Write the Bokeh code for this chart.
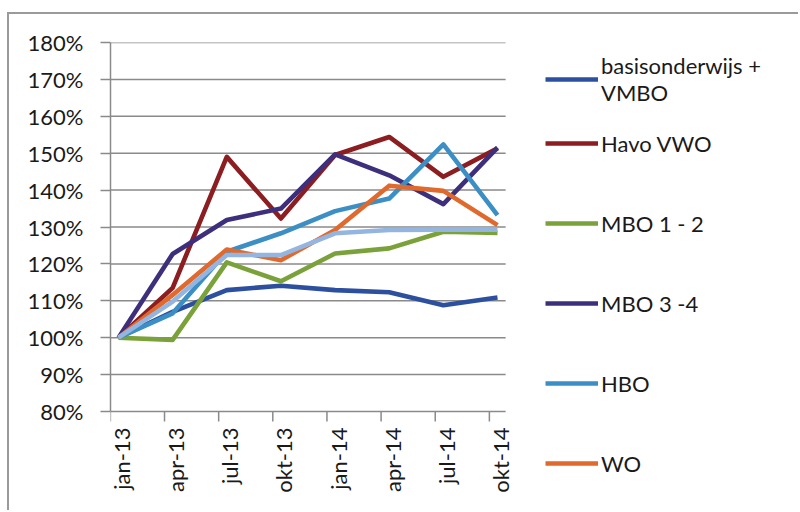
from math import pi
from bokeh.plotting import figure
from bokeh.models import FixedTicker, Legend, LegendItem, PrintfTickFormatter
from bokeh.core.properties import value
from bokeh.embed import file_html
from bokeh.resources import INLINE

months = ["jan-13", "apr-13", "jul-13", "okt-13", "jan-14", "apr-14", "jul-14", "okt-14"]
basis_vmbo = [100, 107.0, 112.9, 114.1, 112.9, 112.3, 108.8, 110.9]
havo_vwo = [100, 113.5, 149.0, 132.3, 149.5, 154.4, 143.6, 151.3]
mbo_12 = [100, 99.4, 120.4, 115.3, 122.8, 124.2, 128.7, 128.4]
mbo_34 = [100, 122.7, 131.9, 135.0, 149.7, 144.0, 136.2, 151.5]
hbo = [100, 106.6, 123.3, 128.3, 134.3, 137.7, 152.4, 133.2]
wo = [100, 111.6, 123.9, 121.0, 129.2, 141.2, 139.8, 130.5]
totaal = [100, 109.8, 122.4, 122.4, 128.3, 129.2, 129.3, 129.3]
y_ticks = [80, 90, 100, 110, 120, 130, 140, 150, 160, 170, 180]

series = [
    ("basisonderwijs +\nVMBO", basis_vmbo, "#2c4f9f"),
    ("Havo VWO", havo_vwo, "#8c1d20"),
    ("MBO 1 - 2", mbo_12, "#7ba23a"),
    ("MBO 3 -4", mbo_34, "#3e2f7d"),
    ("HBO", hbo, "#3b8fc4"),
    ("WO", wo, "#e0692d"),
    (None, totaal, "#94b5e0"),
]

FONT = "Lato"
TXT = "#1a1a1a"
GRID = "#8a8a8a"
LW = 4.6

x = list(range(len(months)))
n = len(months)

# frame: x 110..798 px, y 42..510 px ; 54.14 px per category, 3.69 px per percent
PX_X = 379 / 7
PX_Y = 3.69
x_start = -8 / PX_X
x_end = (n - 1) + 301 / PX_X
y_end = 180
y_start = 180 - 468 / PX_Y
x_lo, x_hi = -0.15, (n - 1) + 0.15

p = figure(width=798, height=510, output_backend="svg", toolbar_location=None,
           x_range=(x_start, x_end), y_range=(y_start, y_end), x_axis_location=None,
           min_border_left=110, min_border_right=0, min_border_top=42, min_border_bottom=0)
p.outline_line_color = None
p.background_fill_alpha = 0
p.border_fill_alpha = 0
p.grid.visible = False
p.styles = {"background": "linear-gradient(#9a9a9a,#9a9a9a) 7px 12px / 2px 100% no-repeat, "
                          "linear-gradient(#9a9a9a,#9a9a9a) 7px 12px / 100% 2px no-repeat, white"}

# y axis
p.yaxis.ticker = FixedTicker(ticks=y_ticks)
p.yaxis.bounds = (y_ticks[0], y_ticks[-1])
p.yaxis.formatter = PrintfTickFormatter(format="%d%%")
p.yaxis.major_tick_out = 10
p.yaxis.major_tick_in = 0
p.yaxis.minor_tick_line_color = None
p.yaxis.major_tick_line_color = GRID
p.yaxis.major_tick_line_width = 1.5
p.yaxis.axis_line_color = GRID
p.yaxis.axis_line_width = 1.5
p.yaxis.major_label_standoff = 17
p.yaxis.major_label_text_font = FONT
p.yaxis.major_label_text_font_size = "22px"
p.yaxis.major_label_text_color = TXT

# horizontal gridlines (the lowest one is the category axis line)
p.segment(x0=[x_lo] * len(y_ticks), x1=[x_hi] * len(y_ticks), y0=y_ticks, y1=y_ticks,
          line_color=GRID, line_width=1.5)
# category tick marks (between categories, Excel style) and labels
tick_x = [i - 0.15 for i in x]
p.segment(x0=tick_x, x1=tick_x, y0=[y_ticks[0]] * n, y1=[y_ticks[0] - 10 / PX_Y] * n,
          line_color=GRID, line_width=1.5)
p.text(x=x, y=[y_ticks[0]] * n, text=months, angle=pi / 2, x_offset=3, y_offset=16,
       text_align="right", text_baseline="middle", text_font=value(FONT),
       text_font_size="22px", text_color=TXT)

for name, vals, col in series:
    p.line(x, vals, line_color=col, line_width=LW, line_join="round")

# legend built from dedicated renderers that lie outside the view
items = []
for name, vals, col in series:
    if name:
        r = p.line([v + 100 for v in x], vals, line_color=col, line_width=LW)
        items.append(LegendItem(label=name, renderers=[r]))

common = dict(glyph_width=53, glyph_height=20, label_text_font=FONT,
              label_text_font_size="22px", label_text_color=TXT, label_standoff=3,
              margin=0, padding=0, border_line_color=None, background_fill_alpha=0)

legend_top = Legend(items=items[:1], location=(435, 404), label_height=30,
                    label_text_line_height=1.5, **common)
legend_rest = Legend(items=items[1:], location=(435, 32), label_height=30,
                     spacing=50, **common)
p.add_layout(legend_top, "center")
p.add_layout(legend_rest, "center")

open("out.html", "w").write(file_html(p, INLINE))
